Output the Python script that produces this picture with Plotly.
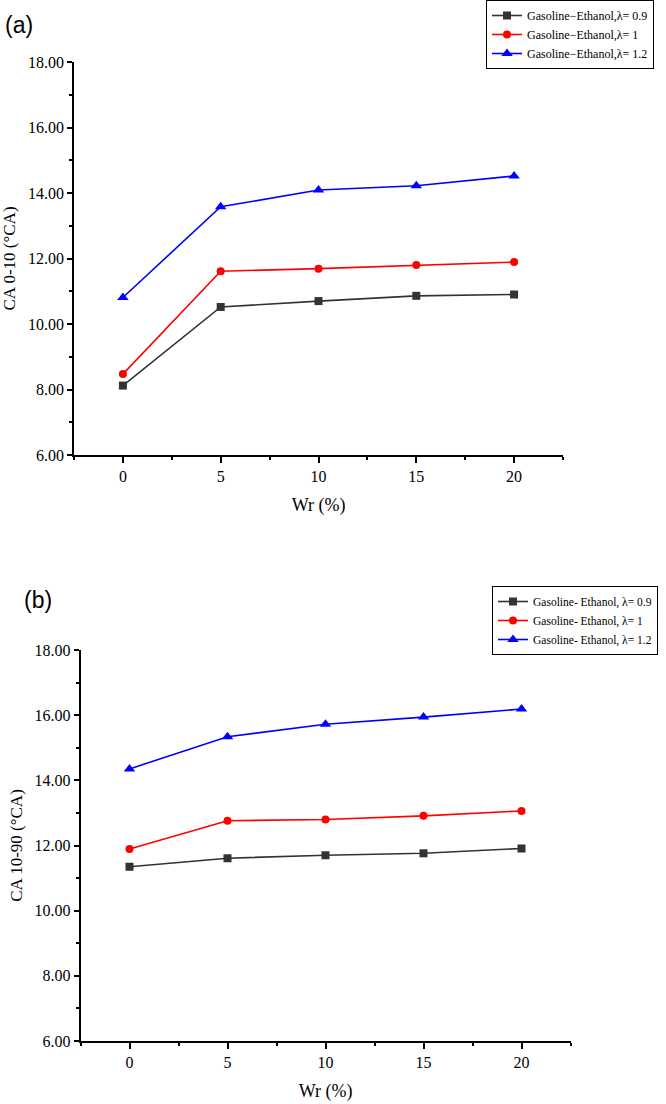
import plotly.graph_objects as go

W, H = 666, 1104

wr = [0, 5, 10, 15, 20]

# Panel (a): CA 0-10 (°CA)
a_l09 = [8.12, 10.52, 10.70, 10.86, 10.90]
a_l10 = [8.47, 11.61, 11.69, 11.80, 11.89]
a_l12 = [10.81, 13.58, 14.09, 14.22, 14.52]

# Panel (b): CA 10-90 (°CA)
b_l09 = [11.35, 11.61, 11.70, 11.76, 11.91]
b_l10 = [11.89, 12.76, 12.80, 12.91, 13.06]
b_l12 = [14.35, 15.34, 15.72, 15.94, 16.19]

names_a = ["Gasoline\u2212Ethanol,\u03bb= 0.9", "Gasoline\u2212Ethanol,\u03bb= 1", "Gasoline\u2212Ethanol,\u03bb= 1.2"]
names_b = ["Gasoline- Ethanol, \u03bb= 0.9", "Gasoline- Ethanol, \u03bb= 1", "Gasoline- Ethanol, \u03bb= 1.2"]

colors = ["#333333", "#ff0000", "#0000ff"]
symbols = ["square", "circle", "triangle-up"]
msizes = [8, 8, 10]

fig = go.Figure()

for ys, nm, c, s, ms in zip([a_l09, a_l10, a_l12], names_a, colors, symbols, msizes):
    fig.add_trace(go.Scatter(x=wr, y=ys, name=nm, mode="lines+markers",
                             line=dict(color=c, width=1.6),
                             marker=dict(symbol=s, size=ms, color=c),
                             xaxis="x", yaxis="y", legend="legend"))
for ys, nm, c, s, ms in zip([b_l09, b_l10, b_l12], names_b, colors, symbols, msizes):
    fig.add_trace(go.Scatter(x=wr, y=ys, name=nm, mode="lines+markers",
                             line=dict(color=c, width=1.6),
                             marker=dict(symbol=s, size=ms, color=c),
                             xaxis="x2", yaxis="y2", legend="legend2"))

serif = "Liberation Serif, Times New Roman, serif"

def xax(dom, anchor):
    return dict(domain=dom, anchor=anchor, range=[-2.5, 22.5], tick0=0, dtick=5,
                showgrid=False, zeroline=False, showline=True, linecolor="black", linewidth=1.6,
                ticks="outside", ticklen=6, tickwidth=1.6, tickcolor="black",
                tickfont=dict(family=serif, size=16, color="black"),
                minor=dict(ticks="outside", ticklen=3, tickwidth=1.6, tickcolor="black",
                           dtick=2.5, tick0=0, showgrid=False),
                title=dict(text="Wr (%)", font=dict(family=serif, size=18, color="black"), standoff=14))

def yax(dom, anchor, title):
    return dict(domain=dom, anchor=anchor, range=[6, 18], tick0=6, dtick=2, tickformat=".2f",
                showgrid=False, zeroline=False, showline=True, linecolor="black", linewidth=1.6,
                ticks="outside", ticklen=5, tickwidth=1.6, tickcolor="black",
                tickfont=dict(family=serif, size=16, color="black"),
                minor=dict(ticks="outside", ticklen=3, tickwidth=1.6, tickcolor="black",
                           dtick=1, tick0=6, showgrid=False),
                title=dict(text=title, font=dict(family=serif, size=17, color="black"), standoff=8))

ax_left, ax_right = 74, 563
ay_top, ay_bot = 62, 455
bx_left, bx_right = 80.5, 570.5
by_top, by_bot = 650, 1041

fig.update_layout(
    width=W, height=H,
    margin=dict(l=0, r=0, t=0, b=0, autoexpand=False),
    paper_bgcolor="white", plot_bgcolor="white",
    xaxis=xax([ax_left / W, ax_right / W], "y"),
    yaxis=yax([1 - ay_bot / H, 1 - ay_top / H], "x", "CA 0-10 (\u00b0CA)"),
    xaxis2=xax([bx_left / W, bx_right / W], "y2"),
    yaxis2=yax([1 - by_bot / H, 1 - by_top / H], "x2", "CA 10-90 (\u00b0CA)"),
    legend=dict(x=486 / W, y=1.0, xanchor="left", yanchor="top",
                bordercolor="black", borderwidth=1, bgcolor="white",
                font=dict(family=serif, size=12, color="black"), tracegroupgap=0,
                itemwidth=30),
    legend2=dict(x=492 / W, y=1 - 586 / H, xanchor="left", yanchor="top",
                 bordercolor="black", borderwidth=1, bgcolor="white",
                 font=dict(family=serif, size=11.5, color="black"), tracegroupgap=0,
                 itemwidth=30),
    annotations=[
        dict(text="(a)", x=3 / W, y=1 - 25 / H, xref="paper", yref="paper",
             xanchor="left", yanchor="middle", showarrow=False,
             font=dict(family="Liberation Sans, Arial, sans-serif", size=23, color="black")),
        dict(text="(b)", x=22 / W, y=1 - 600 / H, xref="paper", yref="paper",
             xanchor="left", yanchor="middle", showarrow=False,
             font=dict(family="Liberation Sans, Arial, sans-serif", size=23, color="black")),
    ],
)

fig.write_html("out.html", config={"displayModeBar": False},
               post_script="document.body.style.margin='0';document.body.style.overflow='hidden';")
